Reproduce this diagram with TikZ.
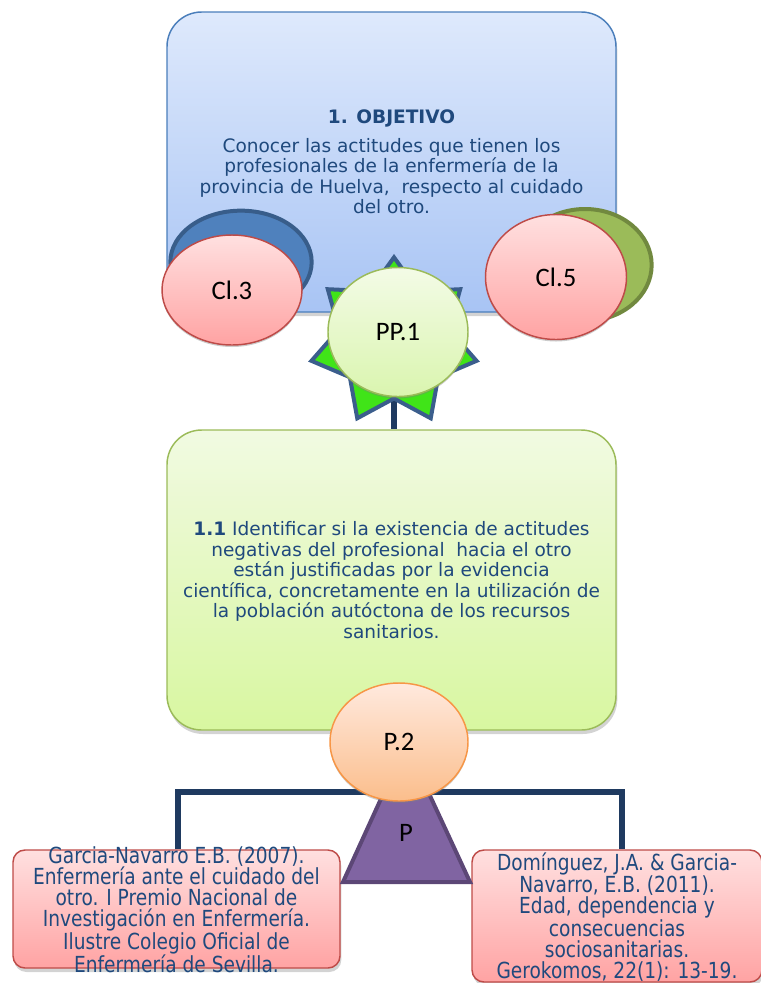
\documentclass[tikz,border=0pt]{standalone}
\usepackage{fontspec}
\setmainfont{DejaVu Sans}
\newfontfamily\calfont{Carlito}
\newfontfamily\condfont[FakeStretch=0.84]{DejaVu Sans}
\usetikzlibrary{shapes.geometric,shadows}
\definecolor{txtblue}{HTML}{1F497D}
\definecolor{navy}{HTML}{1F3A60}
\definecolor{pinktop}{HTML}{FFE0E0}
\definecolor{pinkbot}{HTML}{FFA3A3}
\definecolor{pinkline}{HTML}{BE4B48}
\tikzset{
  bigbox/.style={rounded corners=26pt, minimum width=336.75pt, minimum height=225pt,
    line width=1.1pt, align=center, text=txtblue,
    font=\fontsize{13.9}{15.4}\selectfont,
    drop shadow={shadow xshift=1pt, shadow yshift=-3pt, opacity=0.35}},
  refbox/.style={rounded corners=9pt, draw=pinkline, top color=pinktop, bottom color=pinkbot,
    line width=1.1pt,
    drop shadow={shadow xshift=1pt, shadow yshift=-3pt, opacity=0.35}},
  reftext/.style={align=center, text=txtblue, inner sep=0pt,
    font=\condfont\fontsize{16.6}{15.75}\selectfont},
  oval/.style={ellipse, line width=1.1pt, font=\calfont\fontsize{20}{22}\selectfont, text=black,
    drop shadow={shadow xshift=0pt, shadow yshift=-1.5pt, opacity=0.4}},
  backoval/.style={ellipse, line width=3pt},
  pinkoval/.style={oval, draw=pinkline, top color=pinktop, bottom color=pinkbot},
  conn/.style={draw=navy, line width=3.8pt},
}
\begin{document}
\begin{tikzpicture}[x=0.75pt, y=-0.75pt]
\useasboundingbox (0,0) rectangle (761,983);

% top box
\node[bigbox, draw={rgb,255:red,74;green,126;blue,187},
  top color={rgb,255:red,222;green,233;blue,252}, bottom color={rgb,255:red,168;green,196;blue,244}]
  (obj) at (391.5,162) {\textbf{1. OBJETIVO}\\[6pt]
  Conocer las actitudes que tienen los\\
  profesionales de la enfermería de la\\
  provincia de Huelva,\ \ respecto al cuidado\\
  del otro.};

% Cl.3
\node[backoval, draw={rgb,255:red,56;green,93;blue,138}, fill={rgb,255:red,79;green,129;blue,189},
  minimum width=106pt, minimum height=77pt] (cl3b) at (241,262) {};
\node[pinkoval, minimum width=105pt, minimum height=82.5pt] (cl3) at (232,290) {Cl.3};

% Cl.5
\node[backoval, draw={rgb,255:red,113;green,137;blue,63}, fill={rgb,255:red,155;green,187;blue,89},
  minimum width=100pt, minimum height=84pt] (cl5b) at (585,265) {};
\node[pinkoval, minimum width=105.75pt, minimum height=93.75pt] (cl5) at (556,277) {Cl.5};

% green box
\node[bigbox, draw={rgb,255:red,155;green,187;blue,89},
  top color={rgb,255:red,241;green,250;blue,226}, bottom color={rgb,255:red,216;green,247;blue,160}]
  (obj11) at (391.5,580) {\textbf{1.1} Identificar si la existencia de actitudes\\
  negativas del profesional\ \ hacia el otro\\
  están justificadas por la evidencia\\
  científica, concretamente en la utilización de\\
  la población autóctona de los recursos\\
  sanitarios.};

% star + connector
\coordinate (starc) at (394,342);
\draw[conn] (starc) -- (starc |- obj11.north);
\node[star, star points=7, star point ratio=1.5, minimum size=127pt, inner sep=0pt,
  draw={rgb,255:red,59;green,94;blue,140}, line width=3pt, fill={rgb,255:red,64;green,228;blue,24}]
  (star) at (starc) {};
\node[oval, draw={rgb,255:red,155;green,187;blue,89},
  top color={rgb,255:red,243;green,251;blue,230}, bottom color={rgb,255:red,218;green,245;blue,175},
  minimum width=105pt, minimum height=96.75pt] (pp1) at (398,332) {PP.1};

% reference boxes and bracket
\coordinate (bl) at (178,792);
\coordinate (br) at (622,792);
\node[refbox, minimum width=245.25pt, minimum height=88.5pt] (lref) at (176.5,909) {};
\node[reftext] (lreftxt) at (176.5,910)
  {Garcia-Navarro E.B. (2007).\\
   Enfermería ante el cuidado del\\
   otro. I Premio Nacional de\\
   Investigación en Enfermería.\\
   Ilustre Colegio Oficial de\\
   Enfermería de Sevilla.};
\node[refbox, minimum width=217.5pt, minimum height=99pt] (rref) at (617,916) {};
\node[reftext] (rreftxt) at (617,917)
  {Domínguez, J.A. \& Garcia-\\
   Navarro, E.B. (2011).\\
   Edad, dependencia y\\
   consecuencias\\
   sociosanitarias.\\
   Gerokomos, 22(1): 13-19.};
\draw[conn] (bl |- lref.north) -- (bl) -- (br) -- (br |- rref.north);

% triangle
\path[fill={rgb,255:red,128;green,100;blue,162}, draw={rgb,255:red,92;green,71;blue,118}, line width=3pt, line join=miter]
  (343,882) -- (406,744) -- (470,882) -- cycle;
\node[font=\calfont\fontsize{20}{22}\selectfont] (ptxt) at (406,833) {P};

% P.2
\node[oval, draw={rgb,255:red,247;green,150;blue,70},
  top color={rgb,255:red,255;green,233;blue,222}, bottom color={rgb,255:red,251;green,190;blue,140},
  minimum width=103.5pt, minimum height=88.5pt] (p2) at (399,742) {P.2};
\end{tikzpicture}
\end{document}
